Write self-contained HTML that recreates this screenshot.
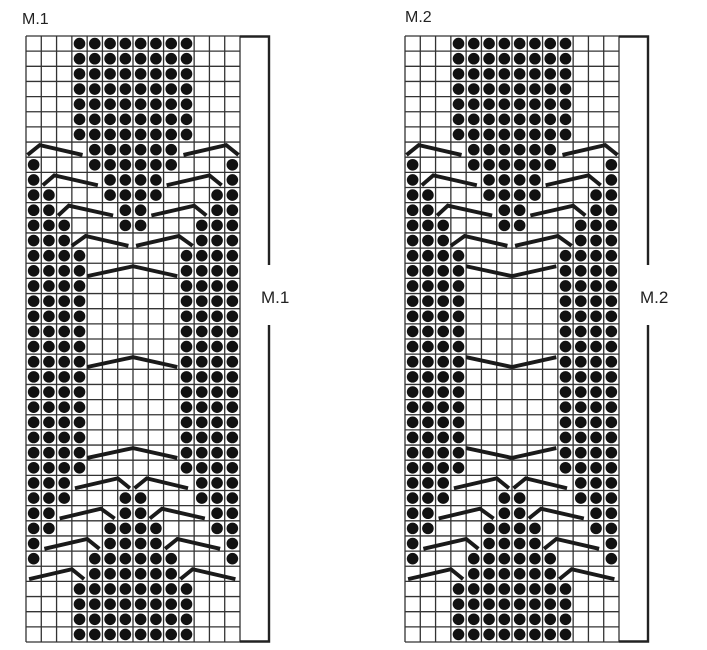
<!DOCTYPE html>
<html><head><meta charset="utf-8"><style>
html,body{margin:0;padding:0;background:#fff;width:707px;height:650px;overflow:hidden}
svg{display:block}
text{font-family:"Liberation Sans",sans-serif;fill:#222}
</style></head><body>
<svg id="s" width="707" height="650" xmlns="http://www.w3.org/2000/svg">
<text x="22" y="24" font-size="16">M.1</text>
<text x="405" y="22" font-size="16">M.2</text>
<text x="261" y="303" font-size="17">M.1</text>
<text x="640" y="303" font-size="17">M.2</text>
</svg>
<script>
const s=document.getElementById('s');const NS='http://www.w3.org/2000/svg';
function el(t,a){const e=document.createElementNS(NS,t);for(const k in a)e.setAttribute(k,a[k]);s.appendChild(e);return e;}
const rows=[];
for(let i=0;i<7;i++)rows.push([3,4,5,6,7,8,9,10]);
rows.push([4,5,6,7,8,9]);
rows.push([0,4,5,6,7,8,9,13]);
rows.push([0,5,6,7,8,13]);
rows.push([0,1,5,6,7,8,12,13]);
rows.push([0,1,6,7,12,13]);
rows.push([0,1,2,6,7,11,12,13]);
rows.push([0,1,2,11,12,13]);
for(let i=14;i<=28;i++)rows.push([0,1,2,3,10,11,12,13]);
rows.push([0,1,2,11,12,13]);
rows.push([0,1,2,6,7,11,12,13]);
rows.push([0,1,6,7,12,13]);
rows.push([0,1,5,6,7,8,12,13]);
rows.push([0,5,6,7,8,13]);
rows.push([0,4,5,6,7,8,9,13]);
rows.push([4,5,6,7,8,9]);
for(let i=0;i<4;i++)rows.push([3,4,5,6,7,8,9,10]);
const carets=[
[7,0.1,0.9,3.7],[7,10.3,13.1,13.9],
[9,1.1,1.85,4.7],[9,9.2,12.0,12.8],
[11,2.1,2.8,5.7],[11,8.2,11.0,11.8],
[13,3.0,3.9,6.7],[13,7.2,10.0,10.9],
[29,3.2,6.0,6.8],[29,7.1,7.9,10.6],
[31,2.2,4.9,5.8],[31,8.1,8.9,11.7],
[33,1.2,4.0,4.8],[33,9.1,9.9,12.7],
[35,0.2,3.0,3.8],[35,10.1,10.9,13.7]];
function chart(x0,y0,bx,variant){
 const cw=214/14,ch=606/40;
 for(let i=0;i<=14;i++)el('line',{x1:x0+i*cw,y1:y0,x2:x0+i*cw,y2:y0+606,stroke:'#333','stroke-width':1.3});
 for(let j=0;j<=40;j++)el('line',{x1:x0,y1:y0+j*ch,x2:x0+214,y2:y0+j*ch,stroke:'#333','stroke-width':1.3});
 rows.forEach((cols,j)=>cols.forEach(c=>el('circle',{cx:x0+(c+0.5)*cw,cy:y0+(j+0.5)*ch,r:5.8,fill:'#111'})));
 const pl=(pts)=>el('polyline',{points:pts.map(p=>(x0+p[0]*cw)+','+(y0+p[1]*ch)).join(' '),fill:'none',stroke:'#1a1a1a','stroke-width':3.9,'stroke-linejoin':'miter'});
 carets.forEach(c=>pl([[c[1],c[0]+0.85],[c[2],c[0]+0.2],[c[3],c[0]+0.85]]));
 [15,21,27].forEach(rw=>{
  if(variant==1)pl([[4.0,rw+0.85],[7.0,rw+0.2],[9.9,rw+0.85]]);
  else pl([[4.0,rw+0.2],[7.0,rw+0.85],[9.9,rw+0.2]]);
 });
 el('polyline',{points:`${x0+214},${y0+0.5} ${bx},${y0+0.5} ${bx},${y0+229}`,fill:'none',stroke:'#222','stroke-width':2.4});
 el('polyline',{points:`${x0+214},${y0+605.5} ${bx},${y0+605.5} ${bx},${y0+289}`,fill:'none',stroke:'#222','stroke-width':2.4});
}
chart(26,36,269,1);
chart(405,36,648,2);
</script>
</body></html>
